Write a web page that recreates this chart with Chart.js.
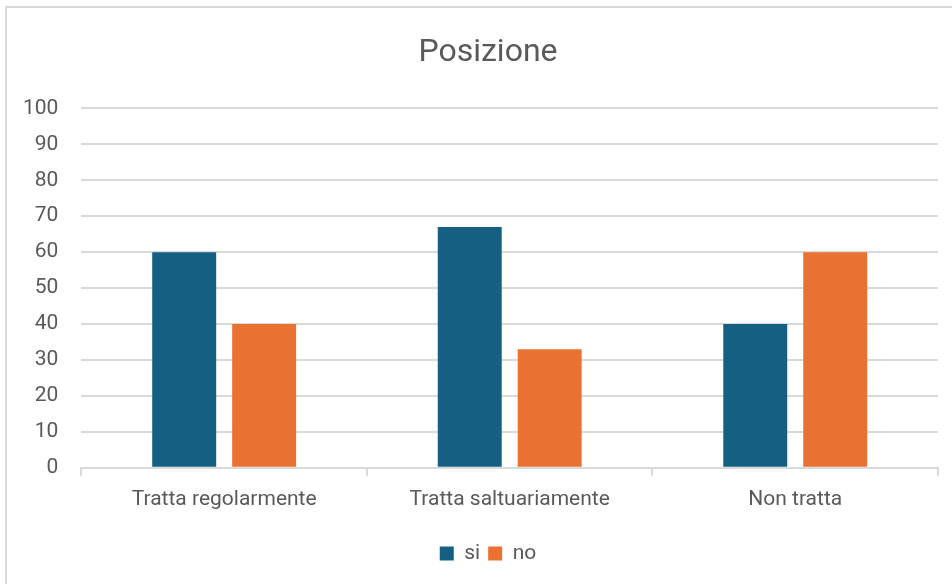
<!DOCTYPE html>
<html>
<head>
<meta charset="utf-8">
<script src="https://cdn.jsdelivr.net/npm/chart.js@4/dist/chart.umd.min.js"></script>
<style>
  html, body { margin: 0; padding: 0; background: #fff; width: 952px; height: 584px; overflow: hidden; }
  #frame { position: absolute; left: 5px; top: 6px; width: 960px; height: 600px; border: 2px solid #d9d9d9; box-sizing: border-box; }
  #wrap { position: absolute; left: 0; top: 0; width: 976px; height: 584px; }
</style>
</head>
<body>
<div id="frame"></div>
<div id="wrap"><canvas id="c" width="976" height="584"></canvas></div>
<script>
const categories = ["Tratta regolarmente", "Tratta saltuariamente", "Non tratta"];
const siValues = [60, 67, 40];
const noValues = [40, 33, 60];
const seriesNames = ["si", "no"];
const chartTitle = "Posizione";

const FONT = "Roboto, 'Open Sans', sans-serif";
const TEXT = "#595959";

new Chart(document.getElementById("c"), {
  type: "bar",
  data: {
    labels: categories,
    datasets: [
      { label: seriesNames[0], data: siValues, backgroundColor: "#156082", borderWidth: 0, categoryPercentage: 0.56, barPercentage: 0.8 },
      { label: seriesNames[1], data: noValues, backgroundColor: "#e97132", borderWidth: 0, categoryPercentage: 0.56, barPercentage: 0.8 }
    ]
  },
  options: {
    responsive: false,
    animation: false,
    layout: { padding: { left: 0, right: 0, top: 30, bottom: 10 } },
    plugins: {
      title: {
        display: true, text: chartTitle, color: TEXT,
        font: { family: FONT, size: 32, weight: "normal" },
        padding: { top: 4, bottom: 36 }
      },
      legend: {
        position: "bottom",
        labels: {
          color: TEXT, font: { family: FONT, size: 21 },
          boxWidth: 14, boxHeight: 14, padding: 8
        }
      },
      tooltip: { enabled: false }
    },
    scales: {
      y: {
        min: 0, max: 100,
        ticks: { stepSize: 10, color: TEXT, font: { family: FONT, size: 21 }, padding: 23 },
        grid: { color: "#d9d9d9", lineWidth: 2, drawTicks: false },
        border: { display: false }
      },
      yRightSpace: {
        position: "right",
        display: true,
        min: 0, max: 100,
        ticks: { display: false },
        grid: { drawOnChartArea: false, drawTicks: false },
        border: { display: false },
        afterFit(scale) { scale.width = 38; }
      },
      x: {
        ticks: { color: TEXT, font: { family: FONT, size: 21 }, padding: 11 },
        grid: { offset: true, drawOnChartArea: false, drawTicks: true, tickLength: 8, color: "#d9d9d9", lineWidth: 2 },
        border: { display: true, color: "#d9d9d9", width: 2 },
        afterFit(scale) { scale.height += 12; }
      }
    }
  }
});
</script>
</body>
</html>
